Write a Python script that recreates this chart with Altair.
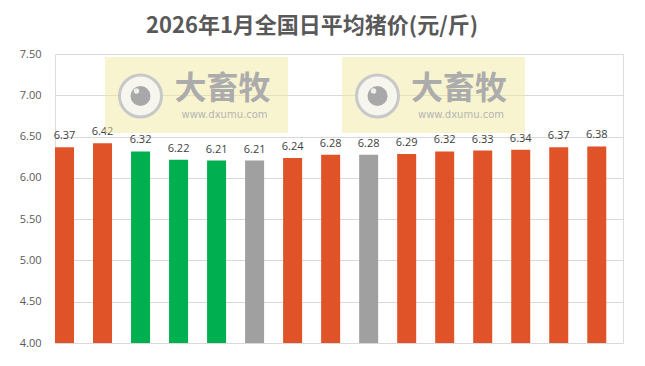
import altair as alt
import pandas as pd

# ---- data ----
days = ["1日", "2日", "3日", "4日", "5日", "6日", "7日", "8日",
        "9日", "10日", "11日", "12日", "13日", "14日", "15日"]
prices = [6.37, 6.42, 6.32, 6.22, 6.21, 6.21, 6.24, 6.28,
          6.28, 6.29, 6.32, 6.33, 6.34, 6.37, 6.38]
trend = ["涨", "涨", "跌", "跌", "跌", "平", "涨", "涨",
         "平", "涨", "涨", "涨", "涨", "涨", "涨"]
y_ticks = [4.0, 4.5, 5.0, 5.5, 6.0, 6.5, 7.0, 7.5]
trend_domain = ["涨", "跌", "平"]
trend_colors = ["#E05328", "#00B050", "#A0A0A0"]
title_text = "2026年1月全国日平均猪价(元/斤)"
brand = "大畜牧"
site = "www.dxumu.com"

df = pd.DataFrame({"day": days, "price": prices, "trend": trend})
one = pd.DataFrame({"k": [0]})

x = alt.X("day:N", sort=days, axis=None,
          scale=alt.Scale(paddingInner=0.5, paddingOuter=0.22, align=0))
y = alt.Y("price:Q",
          scale=alt.Scale(domain=[4, 7.5], nice=False, zero=False),
          axis=alt.Axis(values=y_ticks, format=".2f", title=None, domain=False,
                        ticks=False, grid=True, gridColor="#D9D9D9", gridWidth=1,
                        labelPadding=14, labelFontSize=11, labelColor="#595959",
                        labelFont="Open Sans"))

bars = alt.Chart(df).mark_bar().encode(
    x=x, y=y, y2=alt.datum(4.0),
    color=alt.Color("trend:N", scale=alt.Scale(domain=trend_domain, range=trend_colors),
                    legend=None),
)
labels = alt.Chart(df).mark_text(dy=-8, baseline="alphabetic", font="Open Sans",
                                 fontSize=11, color="#404040").encode(
    x=x, y=y, text=alt.Text("price:Q", format=".2f"))


def watermark(x0, cx_logo, cx_text):
    rect = alt.Chart(one).mark_rect(color="#F2E9A0", opacity=0.5).encode(
        x=alt.value(x0), x2=alt.value(x0 + 183), y=alt.value(3), y2=alt.value(79))
    ring = alt.Chart(one).mark_point(shape="circle", filled=True, fill="#F6F5EE",
                                     stroke="#C8C8C8", strokeWidth=3, size=1764,
                                     opacity=1).encode(
        x=alt.value(cx_logo), y=alt.value(42))
    eye = alt.Chart(one).mark_point(shape="circle", filled=True, fill="#A8A8A8",
                                    strokeWidth=0, size=400, opacity=1).encode(
        x=alt.value(cx_logo), y=alt.value(42))
    glint = alt.Chart(one).mark_point(shape="circle", filled=True, fill="#EFEFEF",
                                      strokeWidth=0, size=30, opacity=1).encode(
        x=alt.value(cx_logo - 4), y=alt.value(37))
    txt = alt.Chart(one).mark_text(font="Noto Sans CJK SC", fontWeight="bold",
                                   fontSize=32, color="#ACACAC", baseline="middle").encode(
        x=alt.value(cx_text), y=alt.value(35), text=alt.value(brand))
    url = alt.Chart(one).mark_text(font="DejaVu Sans", fontSize=10, color="#B4B4B4",
                                   baseline="middle").encode(
        x=alt.value(cx_text + 2), y=alt.value(61), text=alt.value(site))
    return [rect, ring, eye, glint, txt, url]


layers = [bars, labels] + watermark(50, 85.5, 167.5) + watermark(287, 322.5, 404)

chart = alt.layer(*layers).properties(
    width=568, height=289,
    autosize=alt.AutoSizeParams(type="none"),
    padding={"left": 47, "top": 46, "right": 14, "bottom": 15},
    title=alt.TitleParams(text=title_text, font="Noto Sans CJK SC", fontSize=22,
                          fontWeight="bold", color="#595959", anchor="middle",
                          frame="group", dx=-27, offset=10),
).configure_view(stroke=None).configure(background="white")

chart.save("out.html", embed_options={"renderer": "svg", "actions": False})
